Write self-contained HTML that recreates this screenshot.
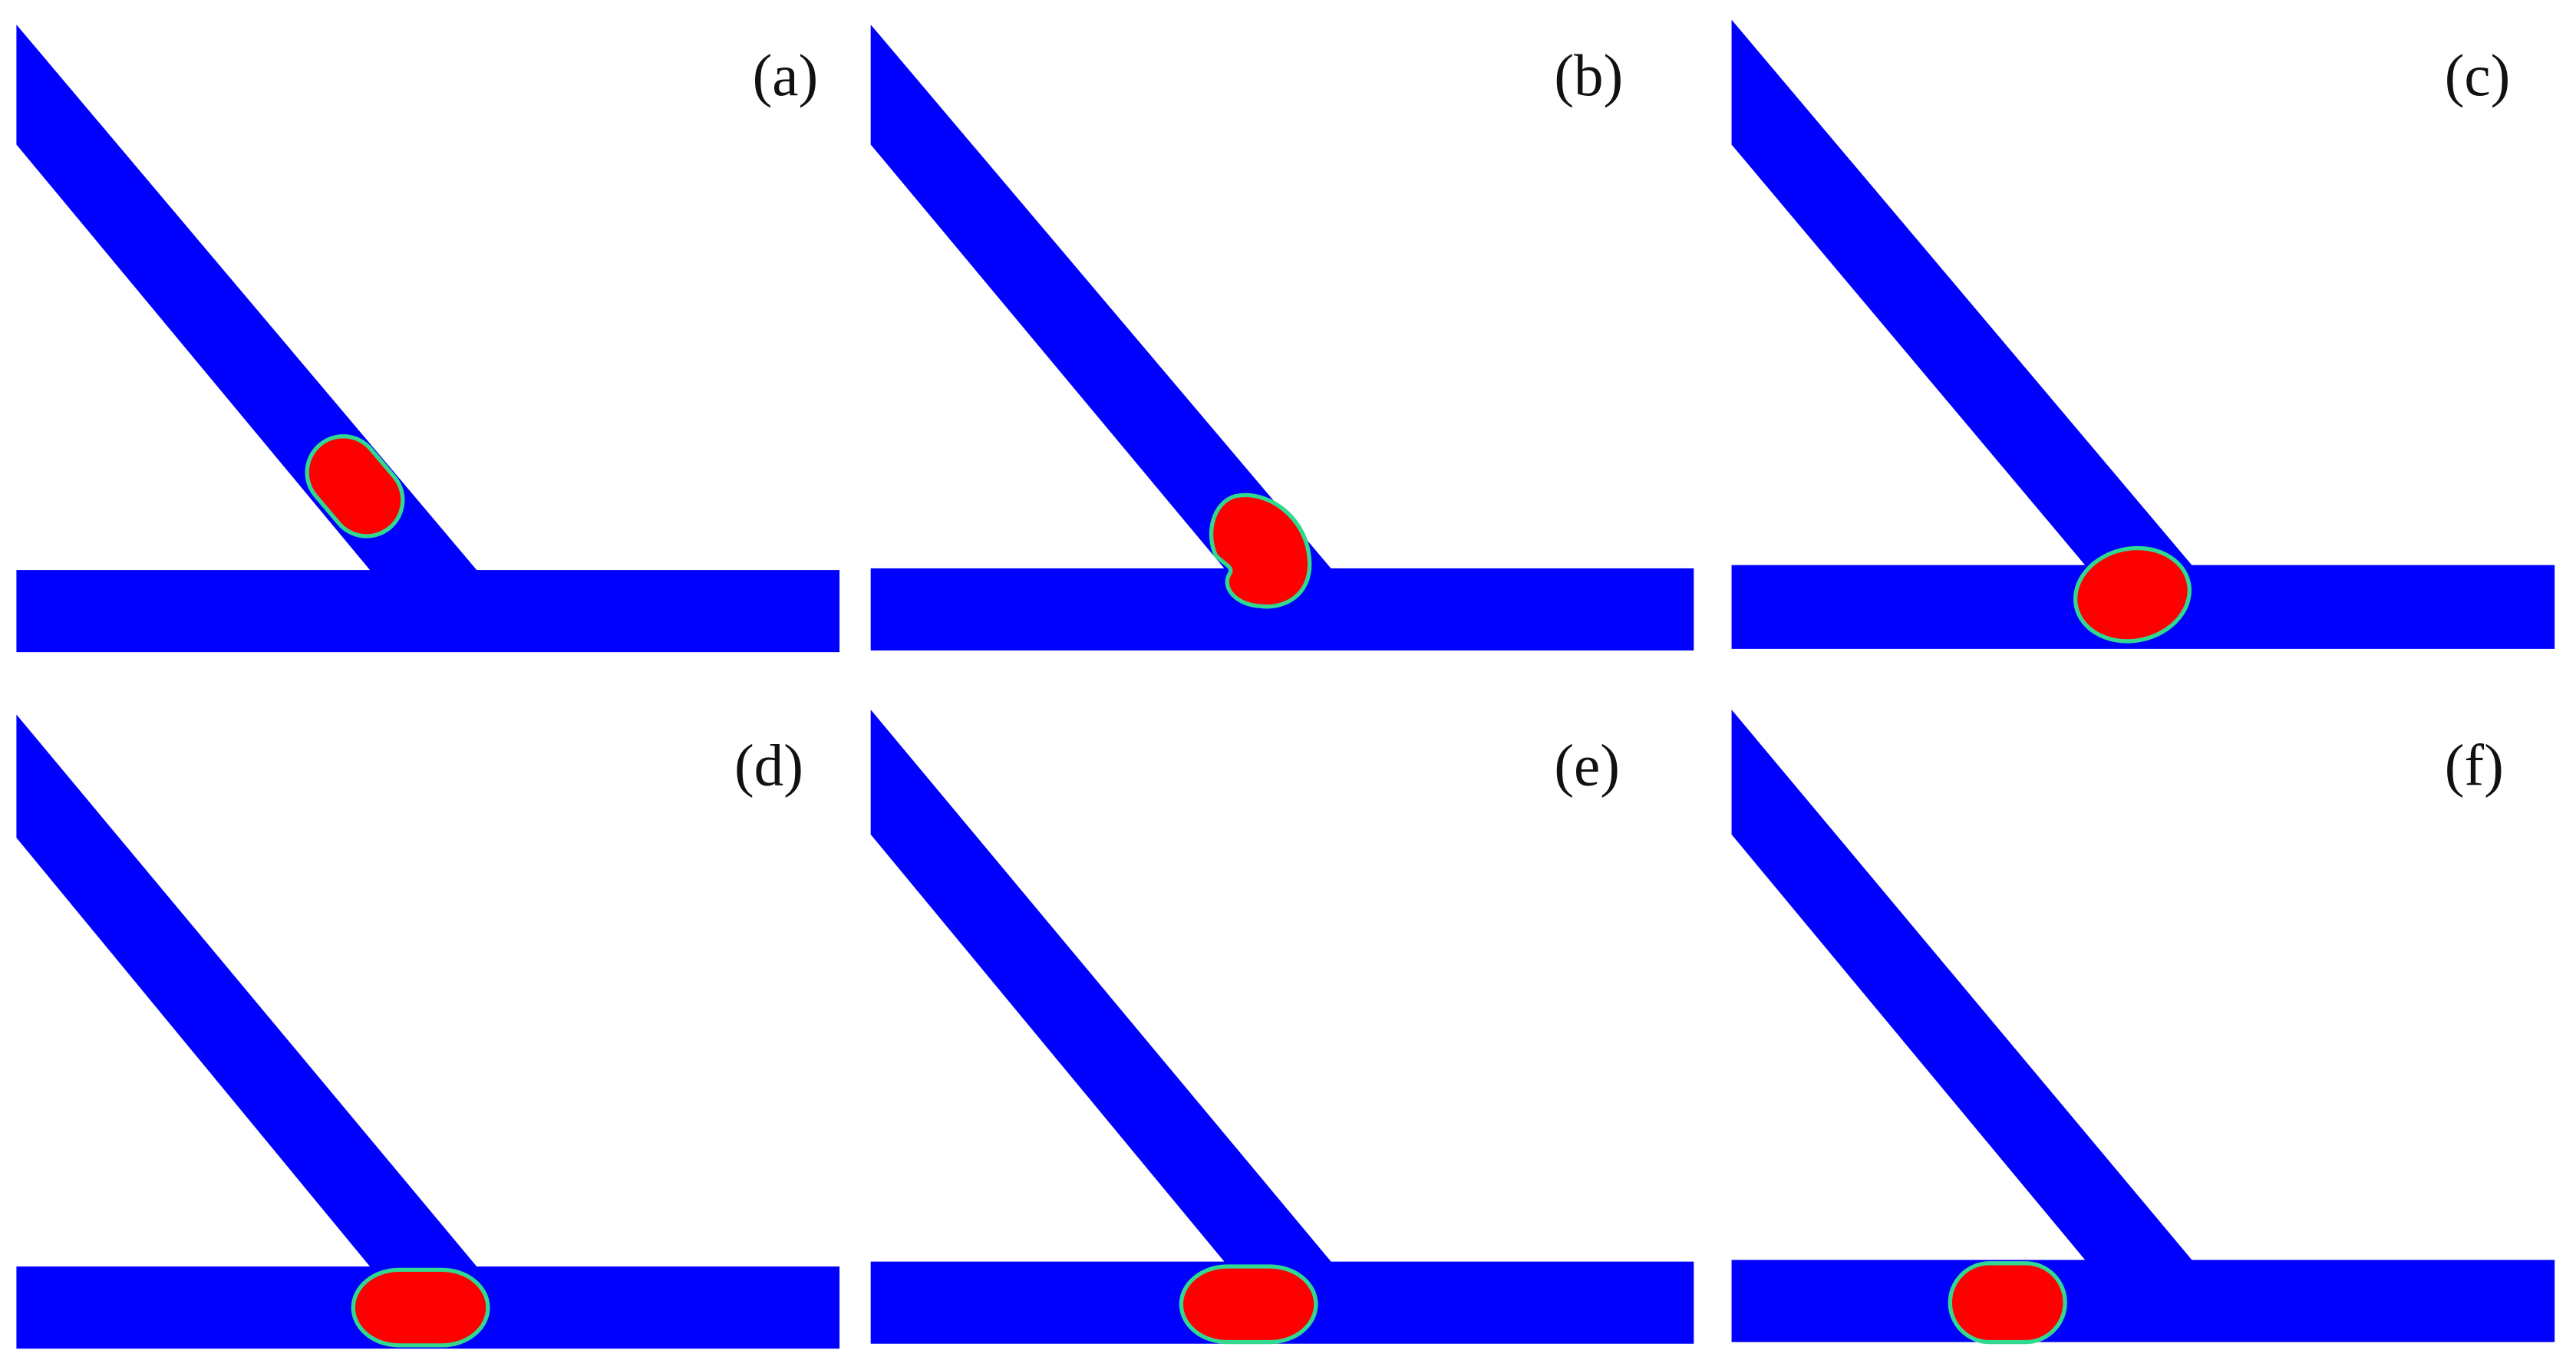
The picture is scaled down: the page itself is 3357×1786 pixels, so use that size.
<!DOCTYPE html>
<html><head><style>html,body{margin:0;padding:0;background:#fff;}svg{display:block;}</style></head>
<body>
<svg width="3357" height="1786" viewBox="0 0 1568 834" preserveAspectRatio="none" xmlns="http://www.w3.org/2000/svg">
<rect width="1568" height="834" fill="#fff"/>
<g fill="#0000ff">
<polygon points="10,15 291,348 226,348 10,88"/><rect x="10" y="347" width="501" height="50"/>
<polygon points="530,15 811,347 746,347 530,88"/><rect x="530" y="346" width="501" height="50"/>
<polygon points="1054,12 1335,345 1270,345 1054,88"/><rect x="1054" y="344" width="501" height="51"/>
<polygon points="10,435 291,772 226,772 10,510"/><rect x="10" y="771" width="501" height="50"/>
<polygon points="530,432 811,769 746,769 530,508"/><rect x="530" y="768" width="501" height="50"/>
<polygon points="1054,432 1335,768 1270,768 1054,508"/><rect x="1054" y="767" width="501" height="50"/>
</g>
<g fill="#ff0000" stroke="#30d890" stroke-width="2.5">
<rect x="-33" y="-22" width="66" height="44" rx="22" transform="translate(216,296) rotate(49.8)"/>
<path d="M752,302 C772,298 795,315 797,340 C799,362 782,371 767,369 C752,368 744,358 748,350 C752,345 744,343 740,338 C734,325 738,306 752,302 Z"/>
<ellipse cx="1298" cy="362" rx="35" ry="28" transform="rotate(-12 1298 362)"/>
<rect x="215" y="773" width="82" height="46" rx="28" ry="23"/>
<rect x="719" y="771" width="82" height="46" rx="28" ry="23"/>
<rect x="1187" y="769" width="70" height="48" rx="24" ry="24"/>
</g>
<g font-family="Liberation Serif, serif" font-size="36" fill="#111" text-anchor="middle">
<text x="478" y="58">(a)</text>
<text x="967" y="58">(b)</text>
<text x="1508" y="58">(c)</text>
<text x="468" y="478">(d)</text>
<text x="966" y="478">(e)</text>
<text x="1506" y="478">(f)</text>
</g>
</svg>
</body></html>
